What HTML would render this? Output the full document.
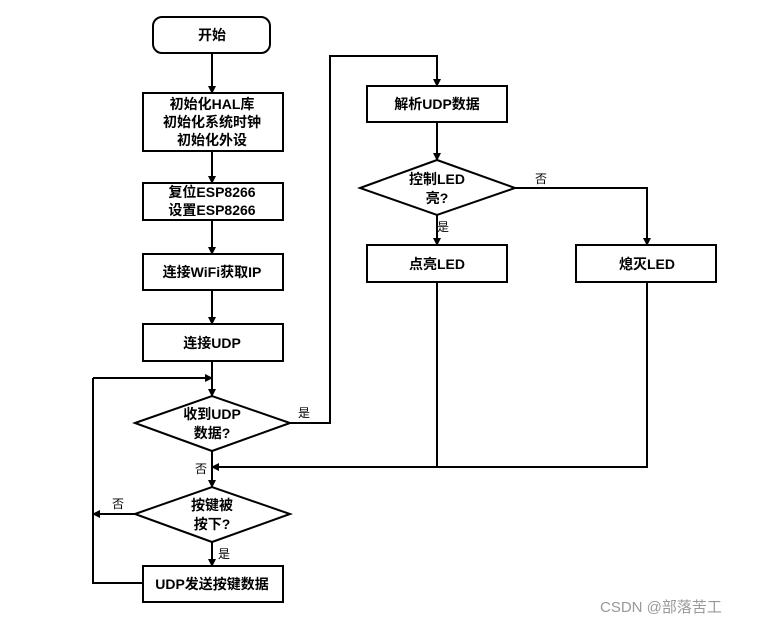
<!DOCTYPE html>
<html><head><meta charset="utf-8"><style>
body{margin:0;background:#fff;}
svg text{font-family:"Liberation Sans","Noto Sans CJK SC",sans-serif;font-weight:bold;font-size:14px;fill:#000;}
.l{font-weight:normal;font-size:12px;}
</style></head><body>
<svg width="765" height="626" viewBox="0 0 765 626" xmlns="http://www.w3.org/2000/svg">
<defs><marker id="a" markerWidth="8" markerHeight="8" refX="7" refY="4" orient="auto" markerUnits="userSpaceOnUse"><path d="M0,0 L8,4 L0,8z" fill="#000"/></marker></defs>
<g fill="none" stroke="#000" stroke-width="2">
<rect x="153" y="17" width="117" height="36" rx="9"/>
<rect x="143" y="93" width="140" height="58"/>
<rect x="143" y="183" width="140" height="37"/>
<rect x="143" y="254" width="140" height="36"/>
<rect x="143" y="324" width="140" height="37"/>
<polygon points="135,423 212,396 290,423 212,451"/>
<polygon points="135,514 212,487 290,514 212,542"/>
<rect x="143" y="566" width="140" height="36"/>
<rect x="367" y="86" width="140" height="36"/>
<polygon points="360,188 437,160 515,188 437,215"/>
<rect x="367" y="245" width="140" height="37"/>
<rect x="576" y="245" width="140" height="37"/>
<g marker-end="url(#a)">
<line x1="212" y1="53" x2="212" y2="93"/>
<line x1="212" y1="151" x2="212" y2="183"/>
<line x1="212" y1="220" x2="212" y2="254"/>
<line x1="212" y1="290" x2="212" y2="324"/>
<line x1="212" y1="361" x2="212" y2="396"/>
<line x1="93" y1="378" x2="212" y2="378"/>
<line x1="212" y1="451" x2="212" y2="487"/>
<line x1="212" y1="542" x2="212" y2="566"/>
<line x1="135" y1="514" x2="93" y2="514"/>
<polyline points="290,423 330,423 330,56 437,56 437,86"/>
<line x1="437" y1="122" x2="437" y2="160"/>
<line x1="437" y1="215" x2="437" y2="245"/>
<polyline points="515,188 647,188 647,245"/>
<polyline points="647,282 647,467 212,467"/>
</g>
<line x1="437" y1="282" x2="437" y2="467"/>
<polyline points="143,583 93,583 93,378"/>
</g>
<g text-anchor="middle">
<text x="212" y="40">开始</text>
<text x="212" y="109">初始化HAL库</text>
<text x="212" y="127">初始化系统时钟</text>
<text x="212" y="145">初始化外设</text>
<text x="212" y="197">复位ESP8266</text>
<text x="212" y="215">设置ESP8266</text>
<text x="212" y="277">连接WiFi获取IP</text>
<text x="212" y="348">连接UDP</text>
<text x="212" y="419">收到UDP</text>
<text x="212" y="438">数据?</text>
<text x="212" y="510">按键被</text>
<text x="212" y="529">按下?</text>
<text x="212" y="589">UDP发送按键数据</text>
<text x="437" y="109">解析UDP数据</text>
<text x="437" y="184">控制LED</text>
<text x="437" y="203">亮?</text>
<text x="437" y="269">点亮LED</text>
<text x="647" y="269">熄灭LED</text>
</g>
<text class="l" x="298" y="417">是</text>
<text class="l" x="195" y="473">否</text>
<text class="l" x="112" y="508">否</text>
<text class="l" x="218" y="558">是</text>
<text class="l" x="437" y="231">是</text>
<text class="l" x="535" y="183">否</text>
<text x="600" y="612" style="font-weight:normal;font-size:15px;fill:#999">CSDN @部落苦工</text>
</svg>
</body></html>
